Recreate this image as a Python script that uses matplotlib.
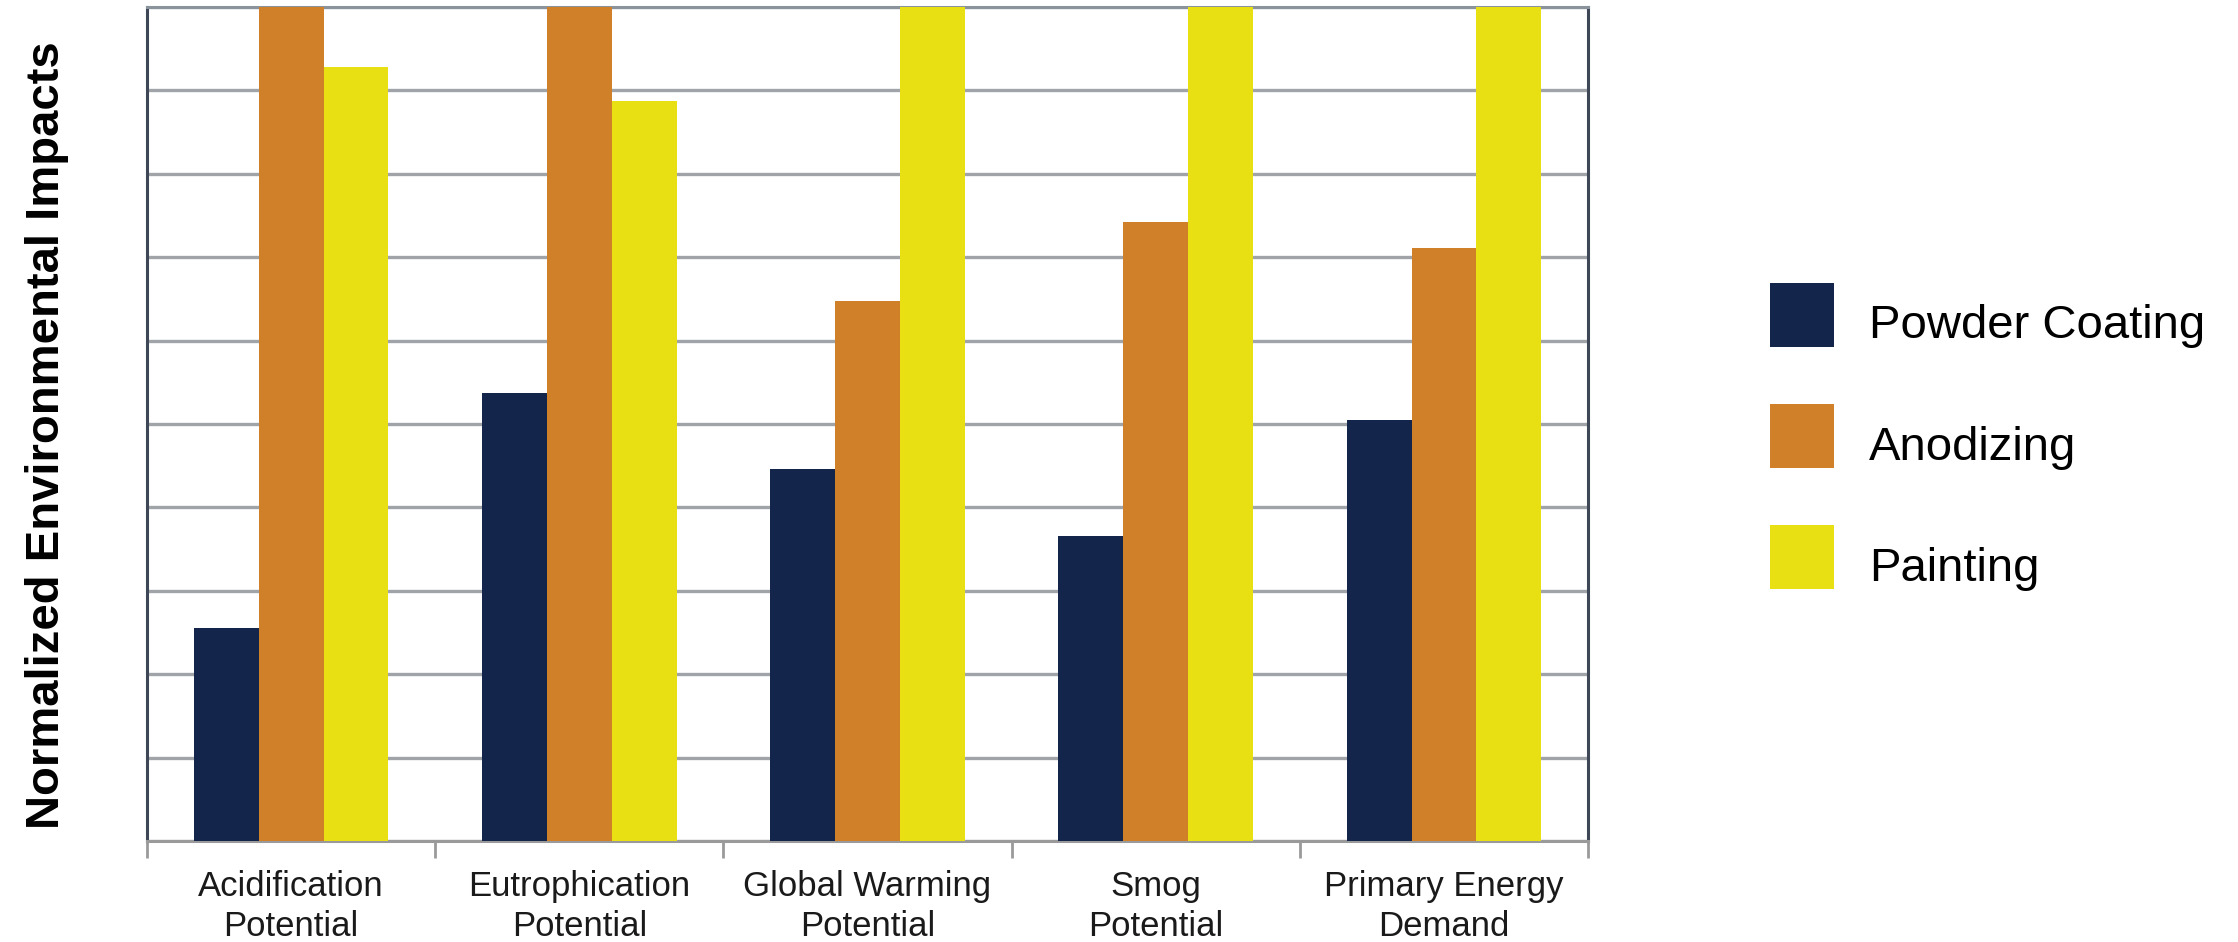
import numpy as np
import matplotlib.pyplot as plt
from matplotlib.patches import Rectangle


# =========================
# Data
# =========================
categories = [
    "Acidification\nPotential",
    "Eutrophication\nPotential",
    "Global Warming\nPotential",
    "Smog\nPotential",
    "Primary Energy\nDemand",
]

powder_coating = [2.55, 5.37, 4.46, 3.66, 5.05]
anodizing = [10.0, 10.0, 6.47, 7.42, 7.11]
painting = [9.28, 8.87, 10.0, 10.0, 10.0]

series_names = ["Powder Coating", "Anodizing", "Painting"]
colors = ["#13254b", "#d1802a", "#e9e013"]


# =========================
# Figure
# =========================
W, H = 2238, 942
fig = plt.figure(figsize=(W / 100, H / 100), dpi=100)
ax = fig.add_axes([0.0657, 0.1072, 0.6439, 0.8854])

x = np.arange(len(categories))
width = 0.225

for i, (name, values) in enumerate(
    zip(series_names, [powder_coating, anodizing, painting])
):
    ax.bar(
        x + (i - 1) * width,
        values,
        width=width,
        color=colors[i],
        label=name,
        zorder=3,
    )

ax.set_xlim(-0.5, len(categories) - 0.5)
ax.set_ylim(0, 10)

# gridlines only, no y tick labels
ax.set_yticks(np.arange(0, 11, 1))
ax.set_yticklabels([])
ax.tick_params(axis="y", length=0)
ax.grid(axis="y", color="#a0a3a8", linewidth=2.4, zorder=0)

# category labels centred, ticks on the boundaries
ax.set_xticks(x)
ax.set_xticklabels(
    categories,
    fontsize=25,
    family="Liberation Sans",
    linespacing=1.25,
    color="#1a1a1a",
)
ax.tick_params(axis="x", which="major", length=0, pad=21)
ax.set_xticks(np.arange(-0.5, len(categories), 1), minor=True)
ax.tick_params(axis="x", which="minor", length=12, width=2, color="#9a9a9a")

for side in ["left", "right"]:
    ax.spines[side].set_color("#3e4756")
    ax.spines[side].set_linewidth(2.2)
ax.spines["top"].set_color("#8a929c")
ax.spines["top"].set_linewidth(2.2)
ax.spines["bottom"].set_color("#9a9a9a")
ax.spines["bottom"].set_linewidth(2.2)

fig.text(
    0.021, 0.538,
    "Normalized Environmental Impacts",
    rotation=90,
    fontsize=34,
    fontweight="bold",
    family="Liberation Sans",
    ha="center",
    va="center",
)

# =========================
# Legend (square swatches, text sits a bit low)
# =========================
box = 64
for i, (name, c) in enumerate(zip(series_names, colors)):
    top = 282.5 + i * 121.3
    fig.add_artist(Rectangle(
        (1770 / W, 1 - (top + box) / H),
        box / W,
        box / H,
        transform=fig.transFigure,
        facecolor=c,
        edgecolor="none",
    ))
    fig.text(
        1869 / W,
        1 - (top + box / 2 + 24) / H,
        name,
        fontsize=34,
        family="Liberation Sans",
        ha="left",
        va="baseline",
    )

fig.savefig("out.png", dpi=100)
